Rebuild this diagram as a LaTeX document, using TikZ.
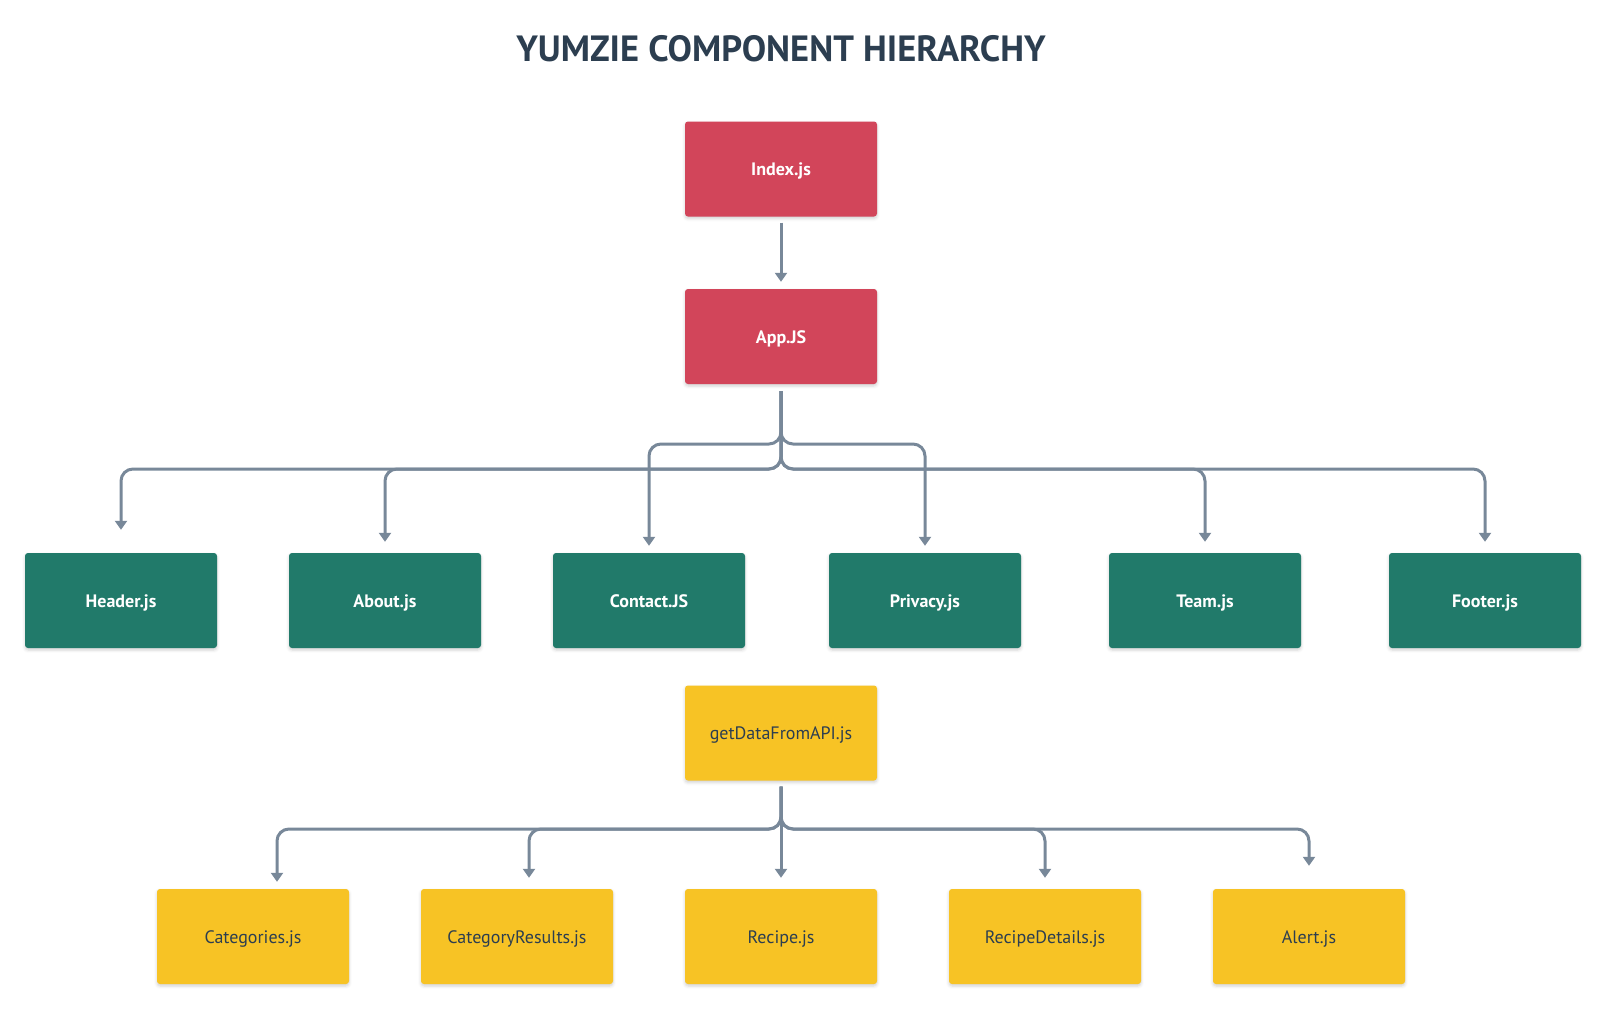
\documentclass[tikz,border=0pt]{standalone}
\usepackage{fontspec}
\setmainfont{PT Sans}
\usetikzlibrary{arrows.meta,shadows.blur}
\definecolor{redbox}{RGB}{210,69,90}
\definecolor{greenbox}{RGB}{33,122,106}
\definecolor{yellowbox}{RGB}{247,195,37}
\definecolor{conncol}{RGB}{120,136,153}
\definecolor{titlecol}{RGB}{44,62,80}
\tikzset{
  box/.style={minimum width=192pt, minimum height=95pt, inner sep=0pt, rounded corners=3pt,
    text height=14pt, text depth=1pt,
    blur shadow={shadow xshift=0pt, shadow yshift=-2pt, shadow blur radius=3pt, shadow opacity=18},
    font=\fontsize{18}{20}\selectfont},
  redb/.style={box, fill=redbox, text=white, font=\fontsize{18}{20}\selectfont\bfseries},
  greenb/.style={box, fill=greenbox, text=white, font=\fontsize{18}{20}\selectfont\bfseries},
  yellowb/.style={box, fill=yellowbox, text=titlecol},
  conn/.style={draw=conncol, line width=3pt, rounded corners=12pt, -{Triangle[width=12pt,length=9pt]}}
}
\begin{document}
\begin{tikzpicture}[x=1pt,y=-1pt]
\useasboundingbox (0,0) rectangle (1606,1010);
\node[text=titlecol, font=\fontsize{36.5}{42}\selectfont\bfseries] (title) at (781,49) {YUMZIE COMPONENT HIERARCHY};

\node[redb] (index) at (781,169) {Index.js};
\node[redb] (app) at (781,336.5) {App.JS};

\node[greenb] (header) at (121,600.5) {Header.js};
\node[greenb] (about) at (385,600.5) {About.js};
\node[greenb] (contact) at (649,600.5) {Contact.JS};
\node[greenb] (privacy) at (925,600.5) {Privacy.js};
\node[greenb] (team) at (1205,600.5) {Team.js};
\node[greenb] (footer) at (1485,600.5) {Footer.js};

\node[yellowb] (getdata) at (781,733) {getDataFromAPI.js};

\node[yellowb] (cat) at (253,936.5) {Categories.js};
\node[yellowb] (catres) at (517,936.5) {CategoryResults.js};
\node[yellowb] (recipe) at (781,936.5) {Recipe.js};
\node[yellowb] (recdet) at (1045,936.5) {RecipeDetails.js};
\node[yellowb] (alert) at (1309,936.5) {Alert.js};

\coordinate (busA) at (781,469);
\coordinate (busB) at (781,444);
\coordinate (busC) at (781,829);

\draw[conn, shorten <=6pt, shorten >=7pt] (index.south) -- (app.north);

\draw[conn, shorten <=7pt, shorten >=23pt] (app.south) -- (busA) -| (header.north);
\draw[conn, shorten <=7pt, shorten >=11pt] (app.south) -- (busA) -| (about.north);
\draw[conn, shorten <=7pt, shorten >=7pt] (app.south) -- (busB) -| (contact.north);
\draw[conn, shorten <=7pt, shorten >=7pt] (app.south) -- (busB) -| (privacy.north);
\draw[conn, shorten <=7pt, shorten >=11pt] (app.south) -- (busA) -| (team.north);
\draw[conn, shorten <=7pt, shorten >=11pt] (app.south) -- (busA) -| (footer.north);

\draw[conn, shorten <=6pt, shorten >=7pt] (getdata.south) -- (busC) -| ([xshift=24pt]cat.north);
\draw[conn, shorten <=6pt, shorten >=11pt] (getdata.south) -- (busC) -| ([xshift=12pt]catres.north);
\draw[conn, shorten <=6pt, shorten >=11pt] (getdata.south) -- (recipe.north);
\draw[conn, shorten <=6pt, shorten >=11pt] (getdata.south) -- (busC) -| (recdet.north);
\draw[conn, shorten <=6pt, shorten >=23pt] (getdata.south) -- (busC) -| (alert.north);
\end{tikzpicture}
\end{document}
